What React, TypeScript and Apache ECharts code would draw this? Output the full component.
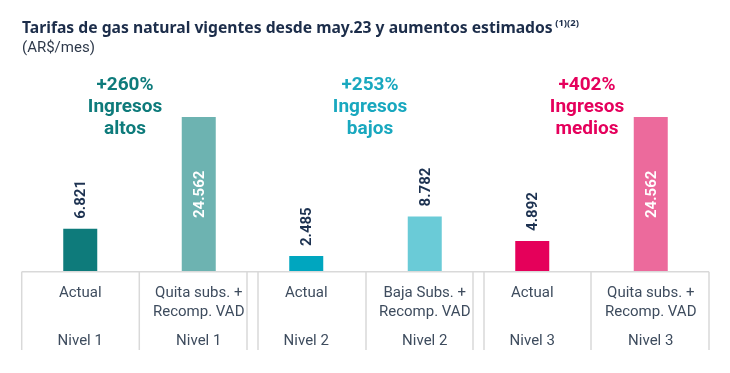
import React, { useEffect, useRef } from "react";
import * as echarts from "echarts";

const categories = [
  "Actual",
  "Quita subs. +\nRecomp. VAD",
  "Actual",
  "Baja Subs. +\nRecomp. VAD",
  "Actual",
  "Quita subs. +\nRecomp. VAD",
];
const levels = ["Nivel 1", "Nivel 1", "Nivel 2", "Nivel 2", "Nivel 3", "Nivel 3"];
const values = [6821, 24562, 2485, 8782, 4892, 24562];
const barColors = ["#0e7b7b", "#6db3b1", "#00a6bf", "#6acbd7", "#e5005a", "#ec6a9c"];
const groupPct = ["+260%", "+253%", "+402%"];
const groupNames = ["Ingresos\naltos", "Ingresos\nbajos", "Ingresos\nmedios"];
const groupColors = ["#0e7b7b", "#19a8bf", "#e5005c"];

const TITLE = "Tarifas de gas natural vigentes desde may.23 y aumentos estimados";
const NOTE = "(1)(2)";
const SUBTITLE = "(AR$/mes)";

const FONT = "Roboto";
const TITLE_FONT = "Noto Sans";
const GRID_LEFTS = [21, 247, 473];
const GRID_W = 237;
const GRID_TOP = 117;
const BASE_Y = 271.7;
const HEADER_X = [125, 370, 587];
const TABLE_X = [21.7, 139.3, 247, 258, 366, 473, 484, 591, 709];
const LINE_C = "#d9d9d9";

function fmt(v: number): string {
  return String(v).replace(/\B(?=(\d{3})+(?!\d))/g, ".");
}

export default function App() {
  const ref = useRef<HTMLDivElement>(null);
  useEffect(() => {
    if (!ref.current) return;
    const chart = echarts.init(ref.current, undefined, { renderer: "svg" });
    const maxV = Math.max(...values);
    const grids: any[] = [];
    const xAxes: any[] = [];
    const yAxes: any[] = [];
    const series: any[] = [];
    for (let g = 0; g < 3; g++) {
      grids.push({ left: GRID_LEFTS[g], width: GRID_W, top: GRID_TOP, height: BASE_Y - GRID_TOP });
      const cats = categories.slice(g * 2, g * 2 + 2);
      const lv = levels.slice(g * 2, g * 2 + 2);
      xAxes.push({
        type: "category",
        gridIndex: g,
        data: cats,
        axisLine: { show: false },
        axisTick: { show: false },
        axisLabel: {
          interval: 0,
          hideOverlap: false,
          margin: 11,
          fontFamily: FONT,
          fontSize: 15,
          lineHeight: 19,
          color: "#3e4c5e",
          verticalAlign: "top",
        },
      });
      xAxes.push({
        type: "category",
        gridIndex: g,
        position: "bottom",
        data: lv,
        axisLine: { show: false },
        axisTick: { show: false },
        axisLabel: {
          interval: 0,
          hideOverlap: false,
          margin: 59,
          fontFamily: FONT,
          fontSize: 15,
          lineHeight: 19,
          color: "#3e4c5e",
          verticalAlign: "top",
        },
      });
      yAxes.push({ type: "value", gridIndex: g, min: 0, max: maxV, show: false, splitLine: { show: false } });
      const data = values.slice(g * 2, g * 2 + 2).map((v, i) => {
        const big = v > maxV * 0.6;
        return {
          value: v,
          itemStyle: { color: barColors[g * 2 + i] },
          label: big
            ? {
                show: true,
                position: "inside",
                rotate: 90,
                align: "center",
                verticalAlign: "middle",
                color: "#ffffff",
                fontFamily: FONT,
                fontWeight: "bold",
                fontSize: 15,
                formatter: fmt(v),
              }
            : {
                show: true,
                position: "top",
                distance: 10,
                rotate: 90,
                align: "left",
                verticalAlign: "middle",
                color: "#1d3251",
                fontFamily: FONT,
                fontWeight: "bold",
                fontSize: 15,
                formatter: fmt(v),
              },
        };
      });
      series.push({
        type: "bar",
        xAxisIndex: g * 2,
        yAxisIndex: g,
        barWidth: 34,
        data,
      });
    }

    const graphics: any[] = [];
    graphics.push({
      type: "line",
      shape: { x1: TABLE_X[0], y1: BASE_Y, x2: TABLE_X[TABLE_X.length - 1], y2: BASE_Y },
      style: { stroke: LINE_C, lineWidth: 1.5 },
      z: 10,
    });
    TABLE_X.forEach((x) => {
      graphics.push({
        type: "line",
        shape: { x1: x, y1: BASE_Y, x2: x, y2: 350 },
        style: { stroke: LINE_C, lineWidth: 1.5 },
        z: 10,
      });
    });
    for (let g = 0; g < 3; g++) {
      graphics.push({
        type: "text",
        x: HEADER_X[g],
        y: 72,
        style: {
          text: groupPct[g] + "\n" + groupNames[g],
          fill: groupColors[g],
          fontFamily: FONT,
          fontWeight: "bold",
          fontSize: 19,
          lineHeight: 22,
          align: "center",
          textAlign: "center",
          verticalAlign: "top",
          textVerticalAlign: "top",
        },
      });
    }

    chart.setOption({
      animation: false,
      title: [
        {
          left: 17,
          top: 12,
          text: "{t|" + TITLE + "}{s| " + NOTE + "}",
          textStyle: {
            rich: {
              t: { fontFamily: TITLE_FONT, fontWeight: "bold", fontSize: 15.7, color: "#1c2d4a", lineHeight: 20 },
              s: { fontFamily: TITLE_FONT, fontWeight: "bold", fontSize: 9.5, color: "#1c2d4a", padding: [0, 0, 9, 0] },
            },
          },
        },
        {
          left: 17,
          top: 34,
          text: SUBTITLE,
          textStyle: { fontFamily: FONT, fontWeight: "normal", fontSize: 15, color: "#2f3a4b" },
        },
      ],
      grid: grids,
      xAxis: xAxes,
      yAxis: yAxes,
      series,
      graphic: graphics,
    });
    return () => chart.dispose();
  }, []);
  return <div ref={ref} style={{ position: "fixed", left: 0, top: 0, width: 730, height: 373 }} />;
}
